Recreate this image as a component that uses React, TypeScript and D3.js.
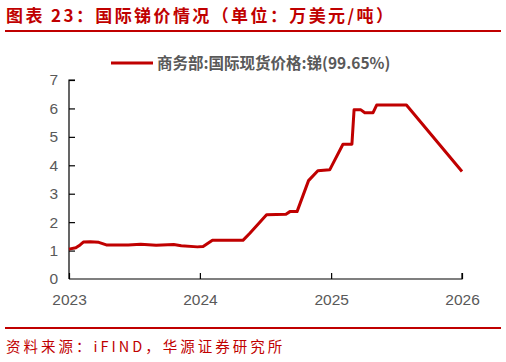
import React, { useEffect, useRef } from "react";
import * as d3 from "d3";

// 国际锑价 (万美元/吨)
const dates = [
  "2023-01-01", "2023-01-20", "2023-02-01", "2023-02-10", "2023-03-01", "2023-03-25",
  "2023-04-15", "2023-06-15", "2023-07-20", "2023-09-01", "2023-10-20", "2023-11-10",
  "2023-12-25", "2024-01-10", "2024-02-05", "2024-04-30", "2024-05-20", "2024-07-05",
  "2024-08-28", "2024-09-08", "2024-09-28", "2024-10-30", "2024-11-25", "2024-12-28",
  "2025-02-03", "2025-02-28", "2025-03-06", "2025-03-25", "2025-04-05", "2025-04-28",
  "2025-05-08", "2025-07-30", "2026-01-01",
];
const prices = [
  1.05, 1.1, 1.2, 1.3, 1.31, 1.29,
  1.2, 1.2, 1.22, 1.19, 1.21, 1.17,
  1.13, 1.14, 1.36, 1.36, 1.62, 2.26,
  2.28, 2.37, 2.37, 3.46, 3.81, 3.84,
  4.74, 4.74, 5.95, 5.95, 5.85, 5.85,
  6.12, 6.12, 3.78,
];
const yearTicks = ["2023", "2024", "2025", "2026"];
const yTicks = [0, 1, 2, 3, 4, 5, 6, 7];
const seriesName = "商务部:国际现货价格:锑(99.65%)";

const W = 506;
const H = 362;
const red = "#c00000";
const grey = "#595959";

export default function App() {
  const ref = useRef<SVGSVGElement>(null);

  useEffect(() => {
    const svg = d3.select(ref.current);
    svg.selectAll("*").remove();

    const margin = { top: 80, right: 44, bottom: 83, left: 69 };
    const parse = d3.timeParse("%Y-%m-%d");
    const data = dates.map((d, i) => ({ date: parse(d) as Date, value: prices[i] }));

    const x = d3.scaleTime()
      .domain([parse("2023-01-01") as Date, parse("2026-01-01") as Date])
      .range([margin.left, W - margin.right]);
    const y = d3.scaleLinear()
      .domain([0, 7])
      .range([H - margin.bottom, margin.top]);

    // title
    svg.append("text")
      .attr("x", 6).attr("y", 22)
      .attr("fill", red)
      .attr("font-size", 17)
      .attr("letter-spacing", 2.4)
      .attr("font-weight", "bold")
      .attr("font-family", "'Noto Sans CJK SC', sans-serif")
      .text("图表 23：国际锑价情况（单位：万美元/吨）");
    svg.append("line")
      .attr("x1", 5).attr("x2", 501).attr("y1", 31).attr("y2", 31)
      .attr("stroke", red).attr("stroke-width", 2);

    // footer
    svg.append("line")
      .attr("x1", 5).attr("x2", 501).attr("y1", 328).attr("y2", 328)
      .attr("stroke", red).attr("stroke-width", 2);
    svg.append("text")
      .attr("x", 6).attr("y", 352)
      .attr("fill", red)
      .attr("font-size", 14.5)
      .attr("letter-spacing", 3)
      .attr("font-family", "'Noto Sans CJK SC', sans-serif")
      .text("资料来源：iFIND，华源证券研究所");

    // legend
    svg.append("line")
      .attr("x1", 111).attr("x2", 153).attr("y1", 63).attr("y2", 63)
      .attr("stroke", red).attr("stroke-width", 3);
    svg.append("text")
      .attr("x", 157).attr("y", 68.5)
      .attr("fill", grey)
      .attr("font-size", 15.5)
      .attr("font-weight", "bold")
      .attr("font-family", "'Noto Sans CJK SC', sans-serif")
      .text(seriesName);

    // y axis
    const yAxis = svg.append("g")
      .attr("transform", `translate(${margin.left},0)`)
      .call(d3.axisRight(y).tickValues(yTicks).tickSize(6).tickFormat(d3.format("d")));
    yAxis.select(".domain").attr("stroke", "#000").attr("stroke-width", 1.2)
      .attr("d", `M${6},${y(7)}H0V${y(0)}`);
    yAxis.selectAll(".tick line").attr("stroke", "#000").attr("stroke-width", 1.2)
      .filter((d: any) => d === 0).remove();
    yAxis.selectAll(".tick text")
      .attr("x", -11)
      .attr("text-anchor", "end")
      .attr("fill", grey)
      .attr("font-size", 15.5)
      .attr("font-family", "Arial, 'Liberation Sans', sans-serif");

    // x axis
    const xAxis = svg.append("g")
      .attr("transform", `translate(0,${H - margin.bottom})`)
      .call(d3.axisTop(x)
        .tickValues(yearTicks.map(s => parse(s + "-01-01") as Date))
        .tickSize(6)
        .tickFormat(d3.timeFormat("%Y") as any));
    xAxis.select(".domain").attr("stroke", "#000").attr("stroke-width", 1.2)
      .attr("d", `M${x.range()[0]},0H${x.range()[1]}V-6`);
    xAxis.selectAll(".tick line").attr("stroke", "#000").attr("stroke-width", 1.2);
    xAxis.selectAll(".tick text")
      .attr("y", 26)
      .attr("fill", grey)
      .attr("font-size", 15.5)
      .attr("font-family", "Arial, 'Liberation Sans', sans-serif");

    // price line
    const line = d3.line<{ date: Date; value: number }>()
      .x(d => x(d.date))
      .y(d => y(d.value));
    svg.append("path")
      .datum(data)
      .attr("fill", "none")
      .attr("stroke", red)
      .attr("stroke-width", 3)
      .attr("stroke-linejoin", "round")
      .attr("d", line);
  }, []);

  return <svg ref={ref} width={W} height={H} style={{ display: "block", position: "absolute", left: 0, top: 0 }} />;
}
